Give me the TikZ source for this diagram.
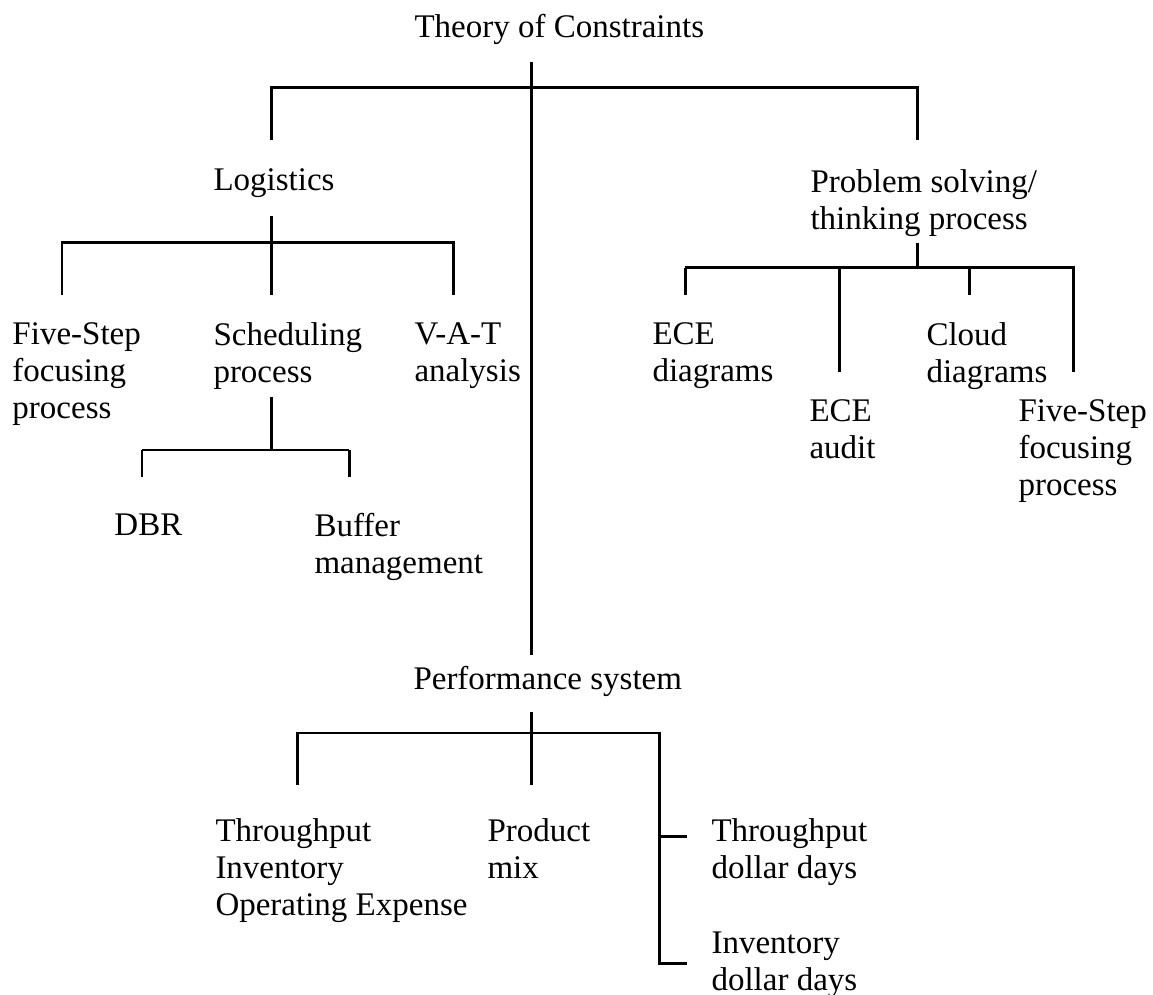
\documentclass[tikz,border=0pt]{standalone}
\usepackage{fontspec}
\setmainfont{Liberation Serif}
\usepackage{tkz-euclide}
\usetikzlibrary{calc}

\begin{document}
\begin{tikzpicture}[line width=0.85pt,every node/.style={inner sep=0pt,anchor=north west,align=left,font=\fontsize{9.39}{10.53}\selectfont}]
\useasboundingbox(0,0)rectangle(11.53,-9.94);
\tkzDefPoints{5.31/-0.62/T,5.31/-0.88/Tj,5.31/-6.55/Tb,2.71/-0.88/La,9.17/-0.88/Pa,2.71/-1.40/Lb,9.17/-1.40/Pb}
\tkzDefPoints{2.71/-2.16/Ls,2.71/-2.43/Lj,0.62/-2.43/Fa,4.53/-2.43/Va,0.62/-2.95/Fb,2.71/-2.95/Sb,4.53/-2.95/Vb}
\tkzDefPoints{2.71/-3.97/Ss,2.71/-4.50/Sj,1.42/-4.50/Da,3.49/-4.50/Ba,1.42/-4.77/Db,3.49/-4.77/Bb}
\tkzDefPoints{9.17/-2.43/Ps,9.17/-2.68/Pj,6.85/-2.68/Ea,8.39/-2.68/Aa,9.69/-2.68/Ca,10.73/-2.68/Ra,6.85/-2.95/Eb,8.39/-3.72/Ab,9.69/-2.95/Cb,10.73/-3.72/Rb}
\tkzDefPoints{5.31/-7.12/Ms,5.31/-7.33/Mj,2.97/-7.33/Ia,6.59/-7.33/Ka,2.97/-7.85/Ib,5.31/-7.85/Mb,6.59/-9.63/Kb,6.59/-8.36/Kt,6.87/-8.36/Kr,6.87/-9.63/Ke}
% labels
\node(toc)at(4.13,-0.13){Theory of Constraints};
\node(log)at(2.12,-1.67){Logistics};
\node(pst)at(8.09,-1.68){Problem solving/\\thinking process};
\node(fsl)at(0.11,-3.21){Five-Step\\focusing\\process};
\node(sch)at(2.12,-3.21){Scheduling\\process};
\node(vat)at(4.13,-3.21){V-A-T\\analysis};
\node(dbr)at(1.13,-5.12){DBR};
\node(buf)at(3.13,-5.12){Buffer\\management};
\node(ecd)at(6.51,-3.21){ECE\\diagrams};
\node(eca)at(8.08,-3.98){ECE\\audit};
\node(cld)at(9.25,-3.21){Cloud\\diagrams};
\node(fsr)at(10.17,-3.98){Five-Step\\focusing\\process};
\node(per)at(4.12,-6.65){Performance system};
\node(tio)at(2.14,-8.17){Throughput\\Inventory\\Operating Expense};
\node(pmx)at(4.86,-8.17){Product\\mix};
\node(tdd)at(7.10,-8.17){Throughput\\dollar days};
\node(idd)at(7.10,-9.30){Inventory\\dollar days};
% tree lines
\draw(T)--(Tb);
\draw(Lb)--(La)--(Pa)--(Pb);
\draw(Fb)--(Fa)--(Va)--(Vb);
\draw(Da)--(Ba);
\draw(Ea)--(Ra)--(Rb);
\draw(Ib)--(Ia)--(Ka)--(Kb)--(Ke);
\foreach \x/\y in {Ls/Lj,Lj/Sb,Ss/Sj,Da/Db,Ba/Bb,Ps/Pj,Ea/Eb,Aa/Ab,Ca/Cb,Ms/Mb,Kt/Kr}
{\draw(\x)--(\y);}
\end{tikzpicture}
\end{document}
